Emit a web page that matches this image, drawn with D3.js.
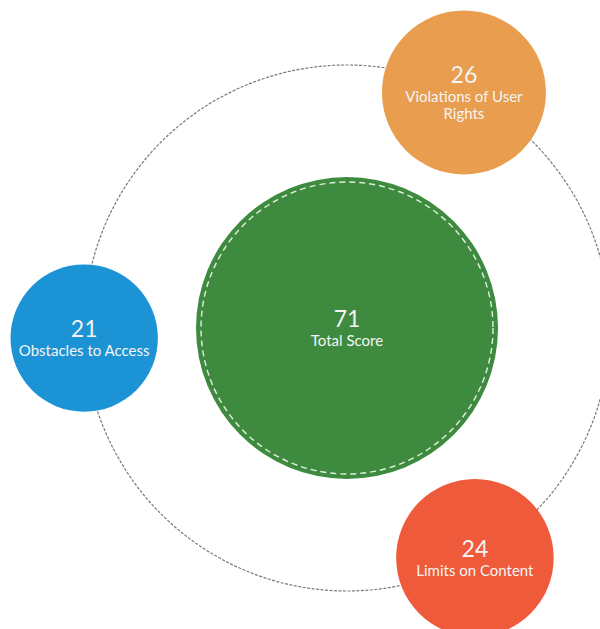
<!DOCTYPE html>
<html>
<head>
<meta charset="utf-8">
<script src="https://cdn.jsdelivr.net/npm/d3@7"></script>
<style>
  html, body { margin: 0; padding: 0; background: #ffffff; }
  svg { display: block; }
  text { font-family: Lato, "PT Sans", "Open Sans", sans-serif; fill: #f4f4f4; }
</style>
</head>
<body>
<svg id="chart" width="600" height="629"></svg>
<script>
// ---- data ----
const categories = ["Violations of User Rights", "Obstacles to Access", "Limits on Content"];
const scores = [26, 21, 24];
const totalLabel = "Total Score";
const totalScore = 71;
const colors = ["#e89d4f", "#1b93d5", "#ef5a3b"];
const totalColor = "#3e8b3f";

// ---- layout ----
const W = 600, H = 629;
const cx = 347, cy = 328;
const orbitR = 263;
const totalR = 151;
const anglesDeg = [-63.6, 177.8, 60.9];

const svg = d3.select("#chart");

const rScale = d3.scaleSqrt().domain([0, d3.max(scores)]).range([0, 82]);

// orbit
svg.append("circle")
  .attr("cx", cx).attr("cy", cy).attr("r", orbitR)
  .attr("fill", "none")
  .attr("stroke", "#7a7a7a")
  .attr("stroke-width", 1.2)
  .attr("stroke-dasharray", "3,1.5");

// total circle
svg.append("circle")
  .attr("cx", cx).attr("cy", cy).attr("r", totalR)
  .attr("fill", totalColor);
svg.append("circle")
  .attr("cx", cx).attr("cy", cy).attr("r", totalR - 5)
  .attr("fill", "none")
  .attr("stroke", "#ffffff")
  .attr("stroke-opacity", 0.85)
  .attr("stroke-width", 1.4)
  .attr("stroke-dasharray", "6,4");

function addLabel(g, x, y, r, value, label) {
  const fs = 15;
  const tmp = g.append("text").attr("font-size", fs);
  const words = label.split(" ");
  const lines = [];
  let cur = [];
  const maxW = 2 * r - 12;
  words.forEach(w => {
    const trial = cur.concat([w]).join(" ");
    tmp.text(trial);
    if (tmp.node().getComputedTextLength() > maxW && cur.length) {
      lines.push(cur.join(" "));
      cur = [w];
    } else {
      cur.push(w);
    }
  });
  if (cur.length) lines.push(cur.join(" "));
  tmp.remove();

  const lineH = 17;
  const shift = (lines.length - 1) * lineH / 2;
  const numY = y - 1 - shift;
  g.append("text")
    .attr("x", x).attr("y", numY)
    .attr("text-anchor", "middle")
    .attr("font-size", 23)
    .attr("font-weight", 400)
    .text(value);
  lines.forEach((ln, i) => {
    g.append("text")
      .attr("x", x).attr("y", numY + 19 + i * lineH)
      .attr("text-anchor", "middle")
      .attr("font-size", fs)
      .text(ln);
  });
}

addLabel(svg.append("g"), cx, cy, totalR, totalScore, totalLabel);

categories.forEach((c, i) => {
  const a = anglesDeg[i] * Math.PI / 180;
  const x = cx + orbitR * Math.cos(a);
  const y = cy + orbitR * Math.sin(a);
  const r = rScale(scores[i]);
  const g = svg.append("g");
  g.append("circle")
    .attr("cx", x).attr("cy", y).attr("r", r)
    .attr("fill", colors[i]);
  addLabel(g, x, y, r, scores[i], c);
});
</script>
</body>
</html>
